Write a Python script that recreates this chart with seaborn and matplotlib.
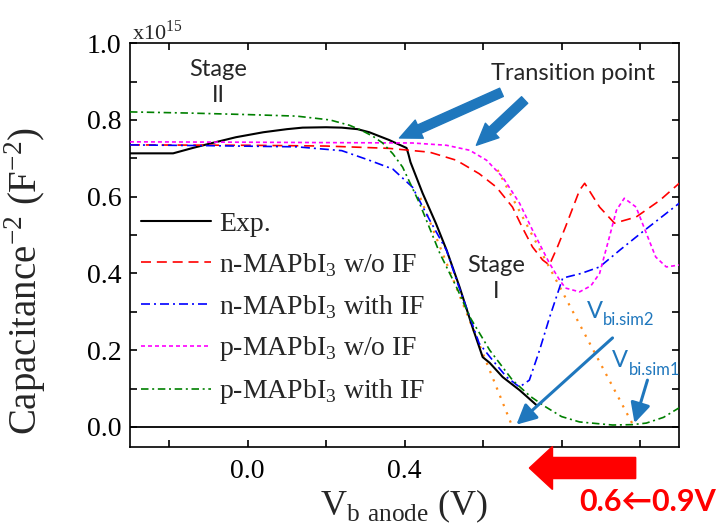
import matplotlib
matplotlib.use("Agg")
import matplotlib.pyplot as plt
from matplotlib.ticker import MultipleLocator, FormatStrFormatter
from matplotlib.patches import FancyArrow
import seaborn as sns

# Capacitance^-2 in units of 1e15 F^-2 versus bias voltage (V)
exp_v = [-0.30, -0.19, -0.14, -0.09, -0.03, 0.04, 0.10, 0.14, 0.20, 0.24, 0.28,
         0.31, 0.36, 0.405, 0.410, 0.415, 0.446, 0.48, 0.507, 0.54, 0.573, 0.599,
         0.617, 0.65, 0.693, 0.736]
exp_c = [0.713, 0.713, 0.727, 0.740, 0.755, 0.768, 0.776, 0.780, 0.781, 0.780, 0.776,
         0.768, 0.748, 0.727, 0.710, 0.690, 0.609, 0.530, 0.461, 0.365, 0.260, 0.182,
         0.167, 0.130, 0.096, 0.057]

n_wo_v = [-0.30, 0.0, 0.2, 0.36, 0.464, 0.532, 0.59, 0.634, 0.675, 0.70, 0.726, 0.752,
          0.769, 0.79, 0.81, 0.846, 0.859, 0.897, 0.935, 0.99, 1.05, 1.10]
n_wo_c = [0.735, 0.734, 0.732, 0.726, 0.716, 0.695, 0.660, 0.625, 0.573, 0.520, 0.469,
          0.435, 0.422, 0.470, 0.521, 0.617, 0.635, 0.573, 0.531, 0.547, 0.590, 0.635]

n_if_v = [-0.30, -0.10, 0.125, 0.24, 0.31, 0.37, 0.42, 0.464, 0.507, 0.535, 0.566, 0.59,
          0.617, 0.66, 0.693, 0.718, 0.744, 0.77, 0.803, 0.85, 0.897, 0.95, 1.006, 1.10]
n_if_c = [0.735, 0.733, 0.730, 0.720, 0.695, 0.672, 0.625, 0.539, 0.460, 0.375, 0.287,
          0.218, 0.183, 0.130, 0.104, 0.122, 0.200, 0.287, 0.388, 0.400, 0.417, 0.462,
          0.508, 0.583]

p_wo_v = [-0.30, 0.0, 0.2, 0.42, 0.507, 0.566, 0.609, 0.65, 0.693, 0.726, 0.769, 0.795,
          0.81, 0.846, 0.875, 0.897, 0.922, 0.94, 0.96, 0.99, 1.016, 1.04, 1.067, 1.10]
p_wo_c = [0.743, 0.742, 0.741, 0.740, 0.734, 0.721, 0.695, 0.651, 0.583, 0.513, 0.427,
          0.383, 0.362, 0.352, 0.368, 0.400, 0.495, 0.565, 0.596, 0.573, 0.505, 0.443,
          0.417, 0.422]

p_if_v = [-0.30, -0.15, 0.0, 0.125, 0.21, 0.26, 0.29, 0.32, 0.344, 0.37, 0.395, 0.438,
          0.49, 0.532, 0.566, 0.617, 0.675, 0.72, 0.76, 0.80, 0.846, 0.93, 0.98, 1.016,
          1.06, 1.10]
p_if_c = [0.821, 0.818, 0.814, 0.810, 0.800, 0.786, 0.773, 0.757, 0.740, 0.712, 0.677,
          0.583, 0.452, 0.365, 0.287, 0.200, 0.122, 0.080, 0.052, 0.027, 0.013, 0.005,
          0.006, 0.010, 0.025, 0.050]

# linear extrapolations to the built-in voltage
fit_sim2_v = [0.44, 0.675]
fit_sim2_c = [0.597, 0.0]
fit_sim1_v = [0.637, 0.985]
fit_sim1_c = [0.670, 0.0]

labels = ["Exp.",
          r"n-MAPbI$_\mathregular{3}$ w/o IF",
          r"n-MAPbI$_\mathregular{3}$ with IF",
          r"p-MAPbI$_\mathregular{3}$ w/o IF",
          r"p-MAPbI$_\mathregular{3}$ with IF"]

sns.set_theme(style="ticks")
plt.rcParams["font.family"] = ["Liberation Serif", "DejaVu Serif"]
plt.rcParams["mathtext.fontset"] = "custom"
plt.rcParams["mathtext.rm"] = "Liberation Serif"
plt.rcParams["axes.edgecolor"] = "black"
plt.rcParams["axes.linewidth"] = 1.2

fig = plt.figure(figsize=(7.18, 5.27), dpi=100)
ax = fig.add_axes([0.181, 0.152, 0.765, 0.766])

sans = ["Lato", "DejaVu Sans"]
blue = "#1F77BD"

series = [
    (exp_v, exp_c, "black", "-", 1.5),
    (n_wo_v, n_wo_c, "#FF0000", (0, (6, 3.5)), 1.2),
    (n_if_v, n_if_c, "#0000FF", (0, (5.4, 2.4, 1.2, 2.4)), 1.2),
    (p_wo_v, p_wo_c, "#FF00FF", (0, (2.4, 1.8)), 1.2),
    (p_if_v, p_if_c, "#008000", (0, (4.5, 2.2, 1.2, 2.2)), 1.2),
]
for (xv, yv, col, ls, lw), lab in zip(series, labels):
    sns.lineplot(x=xv, y=yv, ax=ax, color=col, linestyle=ls, linewidth=lw,
                 label=lab, sort=False, estimator=None, zorder=3)

for xv, yv in [(fit_sim2_v, fit_sim2_c), (fit_sim1_v, fit_sim1_c)]:
    sns.lineplot(x=xv, y=yv, ax=ax, color="#FF8C1A", linestyle=(0, (1, 3)),
                 linewidth=1.6, sort=False, estimator=None, zorder=2, legend=False)

ax.axhline(0, color="black", lw=1.3, zorder=4)

ax.set_xlim(-0.3, 1.1)
ax.set_ylim(-0.052, 1.0)
ax.xaxis.set_major_locator(MultipleLocator(0.4))
ax.xaxis.set_minor_locator(MultipleLocator(0.2))
ax.yaxis.set_major_locator(MultipleLocator(0.2))
ax.yaxis.set_minor_locator(MultipleLocator(0.1))
ax.xaxis.set_major_formatter(FormatStrFormatter("%.1f"))
ax.yaxis.set_major_formatter(FormatStrFormatter("%.1f"))
ax.tick_params(which="both", direction="in", top=True, right=True,
               length=5, width=1.2, color="black")
ax.tick_params(axis="both", which="major", labelsize=20, colors="black")
ax.tick_params(axis="x", pad=9)
ax.tick_params(axis="y", pad=6)
for s in ax.spines.values():
    s.set_color("black")

ax.set_ylabel("Capacitance$^{\\mathregular{-2}}$ (F$^{\\mathregular{-2}}$)", fontsize=28)
ax.yaxis.set_label_coords(-0.15, 0.41)
ax.set_xlabel(r"V$_{\mathregular{b\ anode}}$ (V)", fontsize=26, labelpad=2)

ax.text(0.004, 1.008, r"x10$^{\mathregular{15}}$", transform=ax.transAxes,
        fontsize=16, ha="left", va="baseline")

leg = ax.legend(loc="upper left", bbox_to_anchor=(0.0, 0.61), frameon=False,
                fontsize=20, handlelength=2.5, handletextpad=0.3,
                labelspacing=0.5, borderaxespad=0.0)

# stage and transition annotations
ax.text(-0.074, 0.898, "Stage\nII", family=sans, fontsize=17, ha="center",
        va="center", linespacing=1.3)
ax.text(0.634, 0.388, "Stage\nI", family=sans, fontsize=17, ha="center",
        va="center", linespacing=1.3)
ax.text(0.828, 0.922, "Transition point", family=sans, fontsize=17,
        ha="center", va="center")

thick = dict(arrowstyle="simple,head_length=0.6,head_width=0.55,tail_width=0.25",
             color=blue, mutation_scale=26, shrinkA=0, shrinkB=0)
ax.annotate("", xy=(0.387, 0.753), xytext=(0.647, 0.872), arrowprops=thick)
ax.annotate("", xy=(0.583, 0.734), xytext=(0.706, 0.852), arrowprops=thick)

thin = dict(arrowstyle="-|>,head_length=0.6,head_width=0.3", color=blue, lw=2.2,
            mutation_scale=20, shrinkA=0, shrinkB=0)
ax.annotate("", xy=(0.685, 0.006), xytext=(0.93, 0.232), arrowprops=thin)
ax.annotate("", xy=(0.986, 0.01), xytext=(1.019, 0.122), arrowprops=thin)

# built-in voltage labels: "V" with a smaller subscript set just after it
for vx, vy, sub in [(0.864, 0.284, "bi.sim2"), (0.928, 0.156, "bi.sim1")]:
    vt = ax.text(vx, vy, "V", family=sans, fontsize=17, color=blue,
                 ha="left", va="baseline")
    ax.annotate(sub, xy=(1, 0), xycoords=vt, xytext=(0.5, -2.5),
                textcoords="offset points", family=sans, fontsize=12,
                color=blue, ha="left", va="baseline")

# sweep direction marker below the axis
sweep = FancyArrow(0.989, -0.107, -0.271, 0.0, width=0.055, head_width=0.112,
                   head_length=0.059, length_includes_head=True, color="#FF0000",
                   clip_on=False, zorder=10, transform=ax.transData)
ax.add_artist(sweep)
ax.text(1.195, -0.195, "0.6\u21900.9V", family=sans, fontsize=22, weight="bold",
        color="#FF0000", ha="right", va="center", clip_on=False)

fig.savefig("out.png", dpi=100, facecolor="white")
